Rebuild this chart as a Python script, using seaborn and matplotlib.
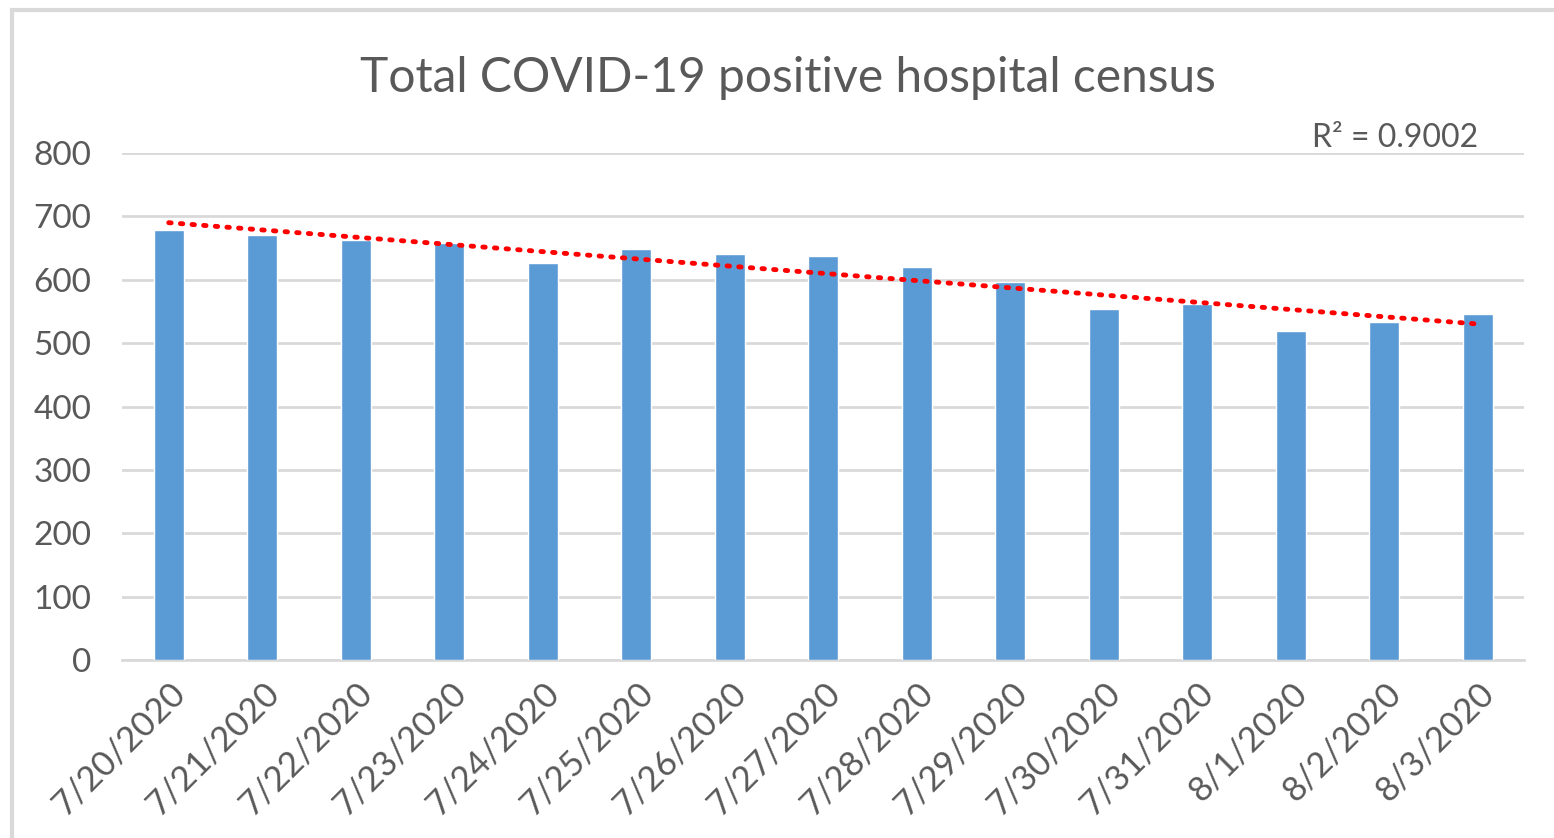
import numpy as np
import pandas as pd
import matplotlib.pyplot as plt
import seaborn as sns
from matplotlib.patches import Rectangle

# podaci ocitani sa slike
dates = ['7/20/2020', '7/21/2020', '7/22/2020', '7/23/2020', '7/24/2020',
         '7/25/2020', '7/26/2020', '7/27/2020', '7/28/2020', '7/29/2020',
         '7/30/2020', '7/31/2020', '8/1/2020', '8/2/2020', '8/3/2020']
census = [679, 670, 663, 658, 626, 649, 640, 637, 620, 596, 554, 561, 519, 534, 546]
r2_label = 'R² = 0.9002'

df = pd.DataFrame({'date': dates, 'census': census})

sns.set_style('white')
plt.rcParams['font.family'] = ['Lato', 'DejaVu Sans']
grey = '#595959'

fig = plt.figure(figsize=(15.54, 8.38), dpi=100)
ax = fig.add_axes([0.0785, 0.2124, 0.9025, 0.605])

sns.barplot(data=df, x='date', y='census', color='#5B9BD5', width=0.32,
            saturation=1, ax=ax, zorder=3)

# linearni trend
xs = np.arange(len(census))
k, n = np.polyfit(xs, census, 1)
ax.plot(xs, k * xs + n, color='#FF0000', lw=3.5, linestyle=(0, (0.5, 1.9)),
        dash_capstyle='round', zorder=4)

ax.set_xlim(-0.5, len(dates) - 0.5)
ax.set_ylim(0, 800)
ax.set_yticks(range(0, 801, 100))
ax.yaxis.grid(True, color='#D9D9D9', lw=2)
ax.set_axisbelow(True)
for s in ['top', 'right', 'left']:
    ax.spines[s].set_visible(False)
ax.spines['bottom'].set_color('#D9D9D9')
ax.spines['bottom'].set_linewidth(2)

ax.set_xticks(np.arange(-0.5, len(dates), 1), minor=True)
ax.tick_params(axis='x', which='minor', length=9, width=2, color='#D9D9D9')
ax.tick_params(axis='x', which='major', length=0, pad=12)
ax.tick_params(axis='y', length=0, pad=22)
ax.set_xticks(xs)
ax.set_xticklabels(dates, rotation=45, ha='right', rotation_mode='anchor',
                   fontsize=25, color=grey)
for lab in ax.get_yticklabels():
    lab.set_fontsize(24)
    lab.set_color(grey)
ax.set_xlabel('')
ax.set_ylabel('')

ax.text(0.967, 1.0, r2_label, transform=ax.transAxes, ha='right', va='bottom',
        fontsize=23, color=grey)

fig.text(0.507, 0.907, 'Total COVID-19 positive hospital census', ha='center',
         va='center', fontsize=34.5, color=grey)

# okvir grafikona
fig.patches.append(Rectangle((12 / 1554, -0.05), 1.0, 1 - 10 / 838 + 0.05,
                             transform=fig.transFigure, fill=False,
                             edgecolor='#D9D9D9', lw=3))

fig.savefig('out.png', dpi=100, facecolor='white')
